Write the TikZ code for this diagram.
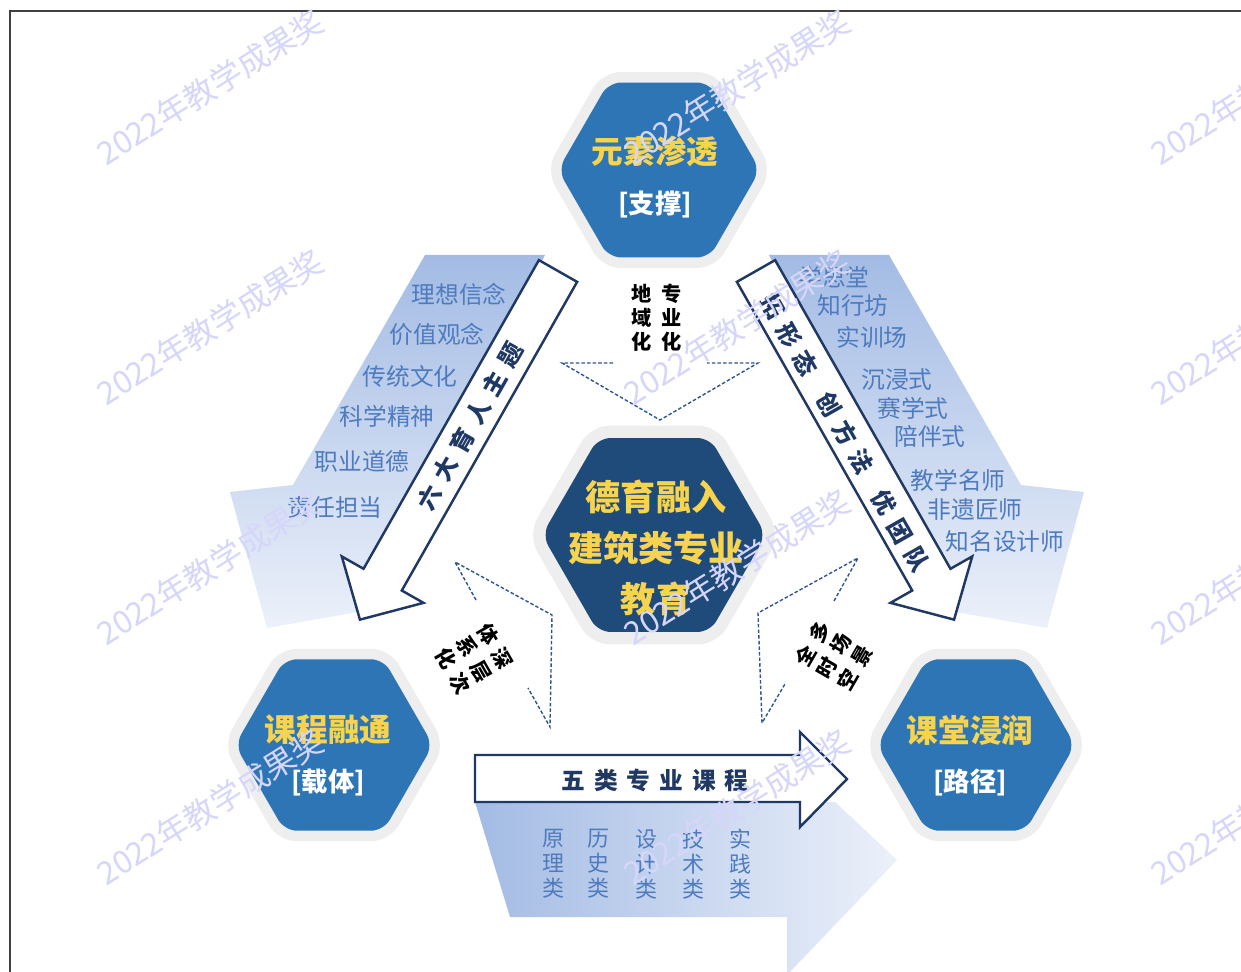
\documentclass[tikz,border=0pt]{standalone}
\usepackage{fontspec}
\setmainfont{Noto Sans CJK SC}
\usetikzlibrary{shapes.geometric}

\definecolor{hexblue}{RGB}{46,117,182}
\definecolor{hexnavy}{RGB}{31,75,122}
\definecolor{titleyellow}{RGB}{248,212,78}
\definecolor{arrownavy}{RGB}{31,56,100}
\definecolor{listblue}{RGB}{78,123,190}
\definecolor{shadeblue}{RGB}{163,187,228}
\definecolor{shadelight}{RGB}{236,241,250}
\definecolor{dashblue}{RGB}{45,85,145}
\definecolor{wmcolor}{RGB}{214,214,250}
\definecolor{halo}{RGB}{238,238,238}

\newcommand{\ls}{\hspace{0.38em}}

\begin{document}
\begin{tikzpicture}[x=0.02cm,y=-0.02cm,
  hexa/.style={regular polygon, regular polygon sides=6, inner sep=0pt, rounded corners=0.25cm, fill=hexblue, preaction={draw=halo, line width=#1}},
  hexa/.default=0.42cm,
  title/.style={text=titleyellow, font=\fontsize{18}{20}\selectfont\bfseries},
  sub/.style={text=white, font=\fontsize{15}{18}\selectfont\bfseries},
  items/.style={text=listblue, font=\fontsize{13.5}{16}\selectfont, inner sep=0pt},
  coltext/.style={text=listblue, font=\fontsize{12.5}{14.2}\selectfont, align=center, inner sep=0pt},
  bigarrow/.style={draw=arrownavy, line width=1.4pt, fill=white},
  arrowtext/.style={text=arrownavy, font=\fontsize{13.5}{16}\selectfont\bfseries, inner sep=0pt},
  chevron/.style={draw=dashblue, line width=0.8pt, dash pattern=on 2pt off 1.2pt},
  vtext/.style={font=\fontsize{11.5}{13}\selectfont\bfseries, inner sep=0pt},
  wmark/.style={text=wmcolor, font=\fontsize{18}{20}\selectfont, inner sep=0pt}]

\useasboundingbox (0,0) rectangle (1241,972);
\fill[white] (0,0) rectangle (1241,972);
\draw[line width=1.2pt, black!75] (10,972) -- (10,11) -- (1241,11);

% light shaded arrows behind
\shade[top color=shadeblue, bottom color=shadelight] (425,255) -- (545,255) -- (358,612) -- (267,628) -- (230,492) -- (293,485) -- cycle;
\shade[top color=shadeblue, bottom color=shadelight] (889,255) -- (769,255) -- (956,612) -- (1047,628) -- (1084,492) -- (1021,485) -- cycle;
\shade[left color=shadeblue, right color=shadelight] (475,802) -- (835,802) -- (897,860) -- (787,975) -- (787,917) -- (510,917) -- cycle;

% white block arrows
\begin{scope}[shift={(558,271)}, rotate=240.4]
\draw[bigarrow] (0,-22) -- (355,-22) -- (355,-47) -- (401,0) -- (355,47) -- (355,22) -- (0,22) -- cycle;
\end{scope}
\begin{scope}[shift={(756,271)}, rotate=299.6]
\draw[bigarrow] (0,-22) -- (355,-22) -- (355,-47) -- (401,0) -- (355,47) -- (355,22) -- (0,22) -- cycle;
\end{scope}
\draw[bigarrow] (475,755) -- (800,755) -- (800,732) -- (847,779) -- (800,827) -- (800,802) -- (475,802) -- cycle;

\node[arrowtext, rotate=60.4] (themes) at (470,426) {六\ls 大\ls 育\ls 人\ls 主\ls 题};
\node[arrowtext, rotate=-60.4] (forms) at (845,433) {拓\ls 形\ls 态\quad 创\ls 方\ls 法\quad 优\ls 团\ls 队};
\node[arrowtext] (courses) at (655,780) {五\ls 类\ls 专\ls 业\ls 课\ls 程};

% lists on the shaded arrows
\foreach \txt/\px/\py [count=\i] in {理想信念/459/294, 价值观念/437/334, 传统文化/410/376, 科学精神/387/416, 职业道德/362/461, 责任担当/335/508}
  \node[items] (theme-\i) at (\px,\py) {\txt};
\foreach \txt/\px/\py [count=\i] in {学思堂/834/277, 知行坊/853/305, 实训场/872/337, 沉浸式/897/380, 赛学式/913/408, 陪伴式/930/436, 教学名师/958/480, 非遗匠师/975/510, 知名设计师/1005/541}
  \node[items] (form-\i) at (\px,\py) {\txt};
\foreach \txt/\px [count=\i] in {原\\理\\类/553, 历\\史\\类/598, 设\\计\\类/646, 技\\术\\类/693, 实\\践\\类/740}
  \node[coltext] (course-\i) at (\px,864) {\txt};

% dashed chevrons
\draw[chevron] (613,363) -- (562,363) -- (660,420) -- (758,363) -- (707,363);
\draw[chevron] (476,600) -- (455,562) -- (552,615) -- (550,727) -- (528,688);
\draw[chevron] (834,601) -- (858,558) -- (758,613) -- (762,723) -- (785,684);

\node[vtext] (region) at (657,320) {\begin{tabular}{@{}c@{\hspace{5.5pt}}c@{}}地&专\\域&业\\化&化\end{tabular}};
\node[vtext, rotate=-60] (depth) at (472,660) {\begin{tabular}{@{}c@{\hspace{4.5pt}}c@{}}体&深\\系&层\\化&次\end{tabular}};
\node[vtext, rotate=60] (scene) at (836,657) {\begin{tabular}{@{}c@{\hspace{4.5pt}}c@{}}全&多\\时&场\\空&景\end{tabular}};

% hexagons
\node[hexa, minimum size=4.04cm] (support) at (659,170) {};
\node[hexa=0.5cm, minimum size=4.48cm, fill=hexnavy] (core) at (654,535) {};
\node[hexa, minimum size=3.96cm] (carrier) at (334,745) {};
\node[hexa, minimum size=3.96cm] (path) at (976,745) {};

\node[title] (support-t) at (655,152) {元素渗透};
\node[sub] (support-s) at (655,205) {[支撑]};
\node[title, font=\fontsize{20}{29}\selectfont\bfseries, align=center] (core-t) at (656,548) {德育融入\\建筑类专业\\教育};
\node[title] (carrier-t) at (328,730) {课程融通};
\node[sub] (carrier-s) at (328,783) {[载体]};
\node[title] (path-t) at (970,730) {课堂浸润};
\node[sub] (path-s) at (970,783) {[路径]};

% watermarks
\foreach \wx in {210,737,1264}
  \foreach \wy in {87,327,567,807}
    \node[wmark, rotate=32] (wm-\wx-\wy) at (\wx,\wy) {2022年教学成果奖};
\end{tikzpicture}
\end{document}
